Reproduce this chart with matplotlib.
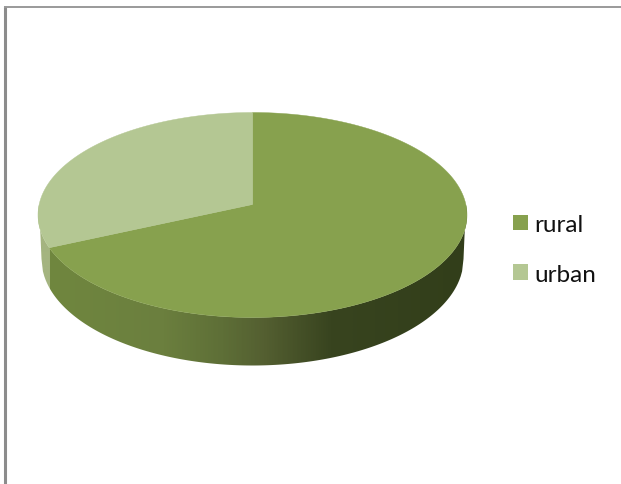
import numpy as np
import matplotlib
matplotlib.use("Agg")
import matplotlib.pyplot as plt
from matplotlib.colors import LinearSegmentedColormap, to_rgb
from matplotlib.patches import Patch, Polygon

categories = ["rural", "urban"]
shares = [68.3, 31.7]
colors = ["#87a14e", "#b4c793"]

plt.rcParams["font.family"] = ["Lato", "DejaVu Sans"]

W, H = 621, 485
fig = plt.figure(figsize=(W / 100, H / 100), dpi=100, facecolor="white")
ax = fig.add_axes([0, 0, 1, 1])

# Tilted disc: a perspective map of the unit circle, so the hub sits above the rim's mid-height
CX, HUB_Y = 252.5, 205.5
K = -21 / 205
B = 113 * (1 + K)
A = 214.5 * np.sqrt(1 - K ** 2)


def rim(theta):
    """Top-surface point for an angle measured clockwise from twelve o'clock."""
    u, v = np.sin(theta), -np.cos(theta)
    d = 1 + K * v
    return CX + A * u / d, HUB_Y + B * v / d


def lower_rim(x_frac):
    """Lower outline of the pie wall, walked from -1 (left) to +1 (right)."""
    return CX + 211 * x_frac, 260.0 + 106.5 * np.sqrt(1 - x_frac ** 2)


# Slice angles come straight from the shares
fractions = np.array(shares) / sum(shares)
edges = np.concatenate([[0], np.cumsum(fractions)]) * 2 * np.pi

# Wall: a horizontal shade clipped to the band under the disc
side_cmap = LinearSegmentedColormap.from_list(
    "wall",
    [(0.0, "#70873f"), (0.28, "#6b7f3e"), (0.42, "#5e6f37"), (0.52, "#545f31"),
     (0.68, "#38441f"), (1.0, "#323e1a")],
)
x_cols = np.arange(30, 475)
shade = side_cmap((x_cols - 45) / (465 - 45))[:, :3]
x_split, _ = rim(edges[1])
shade[x_cols < x_split] = to_rgb("#a4b480")

t_front = np.linspace(3 * np.pi / 2, np.pi / 2, 200)
top_x, top_y = rim(t_front)
low_x, low_y = lower_rim(np.linspace(1, -1, 300))
wall = Polygon(np.column_stack([np.r_[top_x, low_x], np.r_[top_y, low_y]]),
               closed=True, transform=ax.transData, facecolor="none", edgecolor="none")
ax.add_patch(wall)
im = ax.imshow(shade[np.newaxis, :, :], extent=(30, 475, 375, 200), aspect="auto",
               interpolation="bilinear", zorder=2)
im.set_clip_path(wall)

# Top surface wedges
for start, stop, color in zip(edges[:-1], edges[1:], colors):
    t = np.linspace(start, stop, 300)
    x, y = rim(t)
    ax.add_patch(Polygon(np.column_stack([np.r_[CX, x], np.r_[HUB_Y, y]]), closed=True,
                         facecolor=color, edgecolor=color, linewidth=0.3, zorder=3))

# Cropped frame on the left and top
ax.plot([5, 5], [7, H], color="#8c8c8c", lw=2.2, solid_capstyle="butt", zorder=4)
ax.plot([4, W], [8, 8], color="#9a9a9a", lw=1.4, solid_capstyle="butt", zorder=4)

handles = [Patch(facecolor=c, edgecolor="none", label=n) for n, c in zip(categories, colors)]
ax.legend(handles=handles, loc="center left", bbox_to_anchor=(513, 250.5),
          bbox_transform=ax.transData, frameon=False, fontsize=17.5,
          handlelength=0.62, handleheight=0.62, handletextpad=0.25, labelspacing=1.18,
          labelcolor="#111111", borderpad=0, borderaxespad=0)

ax.set_xlim(0, W)
ax.set_ylim(H, 0)
ax.axis("off")
fig.savefig("out.png", dpi=100, facecolor="white")
